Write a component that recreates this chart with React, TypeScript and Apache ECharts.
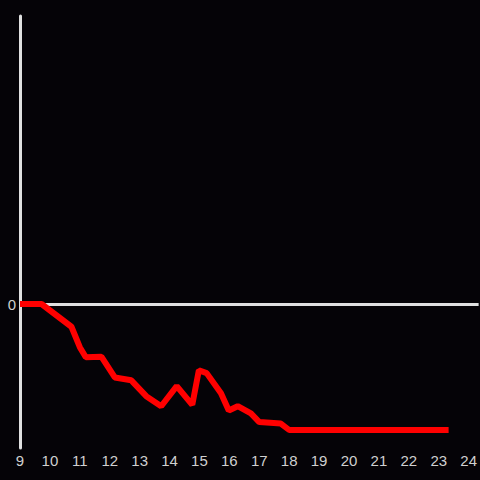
import React, { useEffect, useRef } from "react";
import * as echarts from "echarts";

const hours = [9, 9.72, 10.72, 11.0, 11.2, 11.72, 12.17, 12.72, 13.22, 13.72, 14.24, 14.76, 14.98, 15.24, 15.72, 15.98, 16.28, 16.72, 17.0, 17.72, 18.0, 23.33];
const values = [0, 0, -0.158, -0.3, -0.37, -0.366, -0.51, -0.53, -0.64, -0.71, -0.57, -0.7, -0.46, -0.48, -0.62, -0.74, -0.71, -0.76, -0.82, -0.83, -0.875, -0.875];
const xTicks = [9, 10, 11, 12, 13, 14, 15, 16, 17, 18, 19, 20, 21, 22, 23, 24];

export default function App() {
  const ref = useRef<HTMLDivElement>(null);
  useEffect(() => {
    if (!ref.current) return;
    const chart = echarts.init(ref.current, null, { renderer: "svg" });
    const axisColor = "#e0e0e0";
    const font = "Liberation Sans, Arial, sans-serif";
    chart.setOption({
      animation: false,
      backgroundColor: "#050307",
      grid: { left: 20, right: 0, top: 16, bottom: 32 },
      xAxis: {
        type: "value",
        min: 9,
        max: 24 + 1 / 3,
        interval: 1,
        axisLine: { show: false, onZero: false },
        axisTick: { show: false },
        splitLine: { show: false },
        axisLabel: {
          color: "#d0d0d0",
          fontSize: 15,
          fontFamily: font,
          margin: 5,
          showMaxLabel: false,
          formatter: (v: number) => (xTicks.includes(v) ? String(v) : ""),
        },
      },
      yAxis: {
        type: "value",
        min: -1,
        max: 2,
        interval: 1,
        axisLine: { show: true, onZero: false, lineStyle: { color: axisColor, width: 3 } },
        axisTick: { show: false },
        splitLine: { show: false },
        axisLabel: {
          color: "#d0d0d0",
          fontSize: 15,
          fontFamily: font,
          margin: 4,
          formatter: (v: number) => (v === 0 ? "0" : ""),
        },
      },
      series: [
        {
          type: "line",
          data: [],
          z: 1,
          markLine: {
            silent: true,
            symbol: "none",
            label: { show: false },
            lineStyle: { color: axisColor, width: 3, type: "solid" },
            data: [{ yAxis: 0 }],
          },
        },
        {
          type: "line",
          data: hours.map((h, i) => [h, values[i]]),
          showSymbol: false,
          symbol: "none",
          lineStyle: { color: "#ff0000", width: 6 },
          z: 5,
        },
      ],
    });
    return () => chart.dispose();
  }, []);
  return <div ref={ref} style={{ position: "fixed", left: 0, top: 0, width: 480, height: 480 }} />;
}
